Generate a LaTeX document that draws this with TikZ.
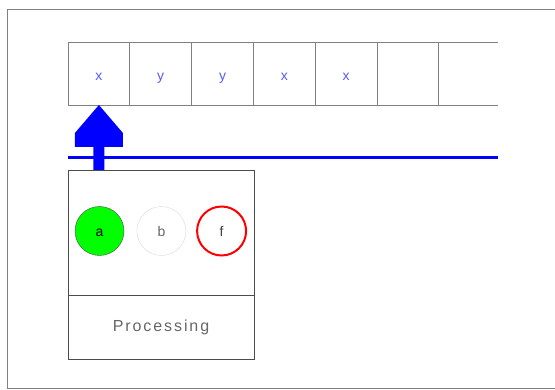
\documentclass[tikz,border=0pt]{standalone}
\usepackage{fontspec}
\setmainfont{Liberation Sans}
\newfontfamily\procfont[LetterSpace=12]{Liberation Sans}
\usetikzlibrary{positioning,calc}

\begin{document}
\begin{tikzpicture}[
  x=1pt, y=1pt,
  node distance=0pt,
  cell/.style={draw=gray, line width=0.9pt, minimum width=61.8pt, minimum height=63pt,
    inner sep=0pt, outer sep=0pt, text height=14pt, text depth=0pt, text=blue!65,
    font=\fontsize{14}{16}\selectfont},
  tape/.style={draw=gray, line width=0.9pt},
  rail/.style={draw=blue, line width=3pt},
  panel/.style={draw=black!70, line width=0.9pt, minimum width=186pt, inner sep=0pt, outer sep=0pt},
  token/.style={circle, minimum size=49pt, inner sep=0pt, text height=11pt, text depth=0pt,
    font=\fontsize{14}{16}\selectfont},
  head/.style={fill=blue}
]
\useasboundingbox (0,0) rectangle (555,389);
\draw[gray, line width=1pt] (555,379) -| (7,1) -- (555,1);

\node[cell] (c1) at (98.9,315.5) {x};
\foreach \sym [count=\i from 2, remember=\i as \j (initially 1)] in {y,y,x,x,{}}
  \node[cell, right=of c\j] (c\i) {\sym};
\draw[tape] (c6.north east) -- ++(59,0);
\draw[tape] (c6.south east) -- ++(59,0);

\node[panel, minimum height=125pt] (slots) at (161,156.5) {};
\node[panel, minimum height=64pt, below=of slots, text=black!60,
  font=\procfont\fontsize{16}{18}\selectfont] (proc) {Processing};

\node[token, draw=black!70, fill=green] (a) at ([xshift=31.5pt,yshift=1.5pt]slots.west) {a};
\node[token, draw=black!15, fill=white, text=black!60, right=12.5pt of a] (b) {b};
\node[token, draw=red, line width=2pt, text=black!75, right=10pt of b] (f) {f};

\draw[rail] ([yshift=-53pt]c1.south west) -- ++(430,0);

\coordinate (tip) at (c1.south);
\coordinate (tail) at (slots.north -| c1.south);
\fill[head] (tip) -- ++(-24,-28) -- ++(0,-14) -- ++(18.5,0)
  -- ([xshift=-5.5pt]tail) -- ([xshift=5.5pt]tail)
  -- ([xshift=5.5pt,yshift=-42pt]tip) -- ++(18.5,0) -- ++(0,14) -- cycle;
\end{tikzpicture}
\end{document}
